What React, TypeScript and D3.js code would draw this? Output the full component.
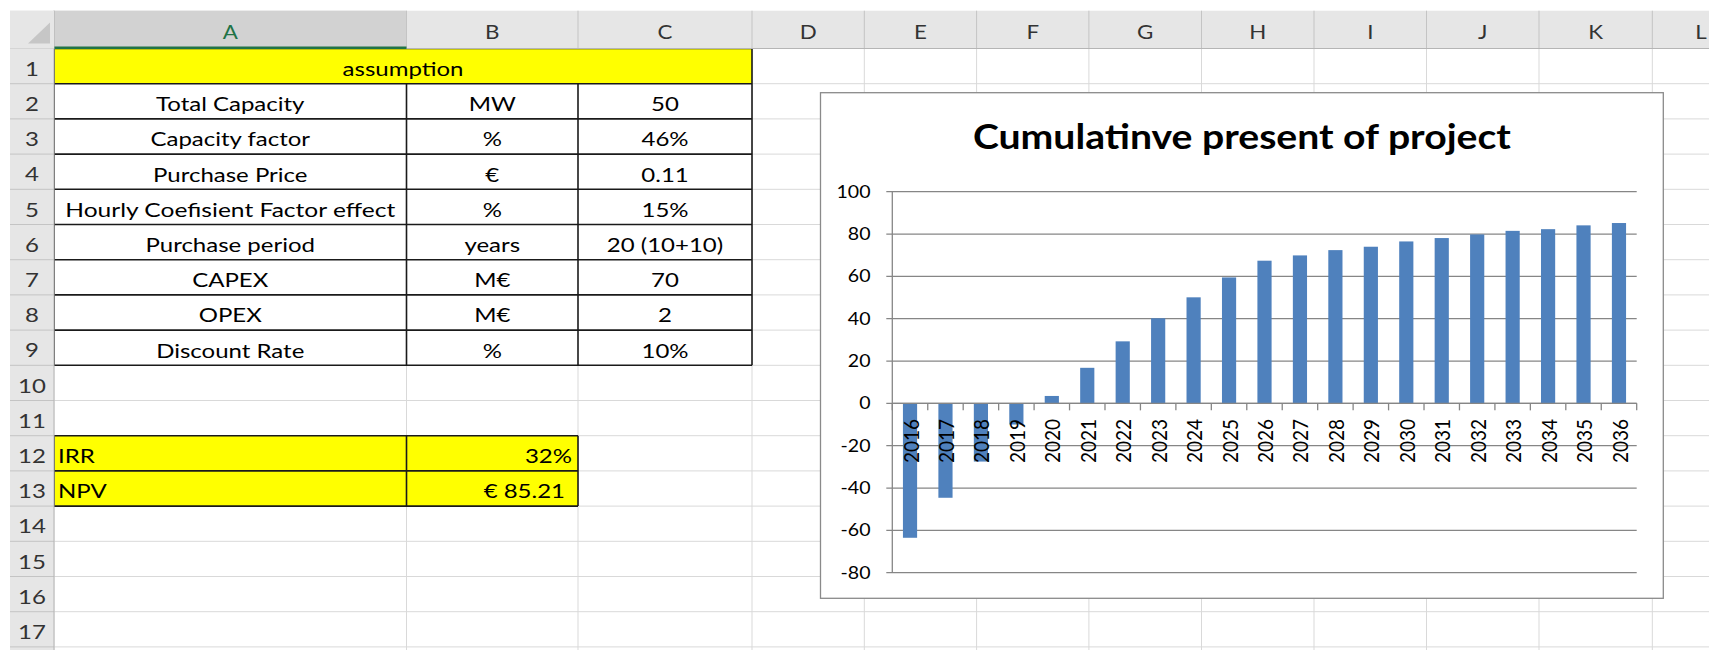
import React from "react";
import * as d3 from "d3";

// ---------- data ----------
const years = [
  "2016","2017","2018","2019","2020","2021","2022","2023","2024","2025","2026",
  "2027","2028","2029","2030","2031","2032","2033","2034","2035","2036",
];
const cumulativePV = [
  -63.5, -44.6, -27.5, -10, 3.5, 16.8, 29.3, 40.2, 50.1, 59.5, 67.4,
  69.9, 72.4, 74.0, 76.5, 78.1, 79.8, 81.5, 82.3, 84.1, 85.2,
];
const yTicks = [-80, -60, -40, -20, 0, 20, 40, 60, 80, 100];
const chartTitle = "Cumulatinve present of project";

const assumptionLabels = [
  "Total Capacity", "Capacity factor", "Purchase Price", "Hourly Coefisient Factor effect",
  "Purchase period", "CAPEX", "OPEX", "Discount Rate",
];
const assumptionUnits = ["MW", "%", "€", "%", "years", "M€", "M€", "%"];
const assumptionValues = ["50", "46%", "0.11", "15%", "20 (10+10)", "70", "2", "10%"];
const resultLabels = ["IRR", "NPV"];
const resultValues = ["32%", "€ 85.21"];
const columnLetters = ["A","B","C","D","E","F","G","H","I","J","K","L"];

// ---------- layout ----------
const W = 1709, H = 650;
const COL_EDGES = [54, 406.5, 578, 752, 864.3, 976.6, 1088.9, 1201.5, 1314, 1426.5, 1539, 1652.3, 1765];
const HEAD_TOP = 10.7, HEAD_BOT = 48.5, ROW_H = 35.2, ROWHDR_L = 10;
const rowTop = (r: number) => HEAD_BOT + (r - 1) * ROW_H;
const FONT = "Lato, 'Open Sans', sans-serif";

function T({ x, y, children, size = 20, anchor = "middle", sx = 1.2, weight = 400, fill = "#000", len }: any) {
  return (
    <text
      transform={`translate(${x},${y}) scale(${sx},1)`}
      fontSize={size}
      textAnchor={anchor}
      fontWeight={weight}
      fill={fill}
      fontFamily={FONT}
      textLength={len ? len / sx : undefined}
      lengthAdjust={len ? "spacingAndGlyphs" : undefined}
    >
      {children}
    </text>
  );
}

function Sheet() {
  const rows = d3.range(1, 19);
  const colCenter = (i: number) => (COL_EDGES[i] + COL_EDGES[i + 1]) / 2;
  const baseline = (r: number) => rowTop(r) + 27.5;
  const black = "#1a1a1a";
  return (
    <g>
      {/* gridlines */}
      {rows.map((r) => (
        <line key={"h" + r} x1={COL_EDGES[0]} x2={W} y1={rowTop(r)} y2={rowTop(r)} stroke="#d9d9d9" />
      ))}
      {COL_EDGES.map((x, i) => (
        <line key={"v" + i} x1={x} x2={x} y1={HEAD_BOT} y2={H} stroke="#d9d9d9" />
      ))}
      {/* yellow fills */}
      <rect x={COL_EDGES[0]} y={rowTop(1)} width={COL_EDGES[3] - COL_EDGES[0]} height={ROW_H} fill="#ffff00" />
      <rect x={COL_EDGES[0]} y={rowTop(12)} width={COL_EDGES[2] - COL_EDGES[0]} height={ROW_H * 2} fill="#ffff00" />
      {/* white cells rows 2-9 (to cover gridlines) */}
      <rect x={COL_EDGES[0]} y={rowTop(2)} width={COL_EDGES[3] - COL_EDGES[0]} height={ROW_H * 8} fill="#fff" />
      {/* black borders: assumptions table */}
      {d3.range(1, 11).map((r) => (
        <line key={"tb" + r} x1={COL_EDGES[0]} x2={COL_EDGES[3]} y1={rowTop(r)} y2={rowTop(r)} stroke={black} strokeWidth={1.6} />
      ))}
      {[0, 3].map((c) => (
        <line key={"to" + c} x1={COL_EDGES[c]} x2={COL_EDGES[c]} y1={rowTop(1)} y2={rowTop(10)} stroke={black} strokeWidth={1.6} />
      ))}
      {[1, 2].map((c) => (
        <line key={"ti" + c} x1={COL_EDGES[c]} x2={COL_EDGES[c]} y1={rowTop(2)} y2={rowTop(10)} stroke={black} strokeWidth={1.6} />
      ))}
      {/* result table borders */}
      {[12, 13, 14].map((r) => (
        <line key={"rb" + r} x1={COL_EDGES[0]} x2={COL_EDGES[2]} y1={rowTop(r)} y2={rowTop(r)} stroke={black} strokeWidth={1.6} />
      ))}
      {[0, 1, 2].map((c) => (
        <line key={"rv" + c} x1={COL_EDGES[c]} x2={COL_EDGES[c]} y1={rowTop(12)} y2={rowTop(14)} stroke={black} strokeWidth={1.6} />
      ))}
      {/* texts */}
      <T x={(COL_EDGES[0] + COL_EDGES[3]) / 2} y={baseline(1)}>assumption</T>
      {assumptionLabels.map((s, i) => (
        <T key={"l" + i} x={colCenter(0)} y={baseline(i + 2)} len={s.length > 25 ? 330 : undefined}>{s}</T>
      ))}
      {assumptionUnits.map((s, i) => (
        <T key={"u" + i} x={colCenter(1)} y={baseline(i + 2)}>{s}</T>
      ))}
      {assumptionValues.map((s, i) => (
        <T key={"v" + i} x={colCenter(2)} y={baseline(i + 2)}>{s}</T>
      ))}
      {resultLabels.map((s, i) => (
        <T key={"rl" + i} x={58} y={baseline(i + 12)} anchor="start">{s}</T>
      ))}
      {resultValues.map((s, i) => (
        <T key={"rv2" + i} x={i === 0 ? 572 : 565} y={baseline(i + 12)} anchor="end">{s}</T>
      ))}

      {/* column header */}
      <rect x={ROWHDR_L} y={HEAD_TOP} width={W - ROWHDR_L} height={HEAD_BOT - HEAD_TOP} fill="#e6e6e6" />
      <rect x={COL_EDGES[0]} y={HEAD_TOP} width={COL_EDGES[1] - COL_EDGES[0]} height={HEAD_BOT - HEAD_TOP} fill="#d2d2d2" />
      {COL_EDGES.map((x, i) => (
        <line key={"hd" + i} x1={x} x2={x} y1={HEAD_TOP} y2={HEAD_BOT} stroke="#c4c4c4" />
      ))}
      <line x1={ROWHDR_L} x2={W} y1={HEAD_BOT} y2={HEAD_BOT} stroke="#b5b5b5" />
      <rect x={COL_EDGES[0]} y={HEAD_BOT - 2} width={COL_EDGES[1] - COL_EDGES[0]} height={2.5} fill="#217346" />
      {columnLetters.map((c, i) => (
        <T key={"cl" + i} x={i === 11 ? 1701 : colCenter(i)} y={39.3} size={18.6} fill={i === 0 ? "#217346" : "#333"}>{c}</T>
      ))}
      {/* row header */}
      <rect x={ROWHDR_L} y={HEAD_BOT} width={COL_EDGES[0] - ROWHDR_L} height={H - HEAD_BOT} fill="#e6e6e6" />
      {rows.map((r) => (
        <line key={"rh" + r} x1={ROWHDR_L} x2={COL_EDGES[0]} y1={rowTop(r)} y2={rowTop(r)} stroke="#c4c4c4" />
      ))}
      <line x1={COL_EDGES[0]} x2={COL_EDGES[0]} y1={HEAD_TOP} y2={H} stroke="#b5b5b5" />
      {d3.range(1, 18).map((r) => (
        <T key={"rn" + r} x={(ROWHDR_L + COL_EDGES[0]) / 2} y={rowTop(r) + 27.2} size={20} fill="#333">{String(r)}</T>
      ))}
      {/* corner */}
      <rect x={ROWHDR_L} y={HEAD_TOP} width={COL_EDGES[0] - ROWHDR_L} height={HEAD_BOT - HEAD_TOP} fill="#e6e6e6" />
      <path d="M28,43.5 L50,43.5 L50,22.5 Z" fill="#c6c6c6" />
    </g>
  );
}

function Chart() {
  const frame = { x0: 820.5, y0: 92.7, x1: 1663.3, y1: 598.3 };
  const plot = { left: 892.3, right: 1636.7, top: 191.7, bottom: 572.7 };
  const x = d3.scaleBand<string>().domain(years).range([plot.left, plot.right]).paddingInner(0.6).paddingOuter(0.3);
  const y = d3.scaleLinear().domain([-80, 100]).range([plot.bottom, plot.top]);
  const step = x.step();
  const boundaries = d3.range(years.length + 1).map((i) => plot.left + i * step);
  const axisColor = "#868686";
  return (
    <g>
      <rect x={frame.x0} y={frame.y0} width={frame.x1 - frame.x0} height={frame.y1 - frame.y0} fill="#fff" stroke="#8a8a8a" strokeWidth={1.3} />
      <T x={(frame.x0 + frame.x1) / 2} y={149.3} size={35} weight={700} sx={1} len={538}>{chartTitle}</T>
      {yTicks.map((t) => (
        <g key={"g" + t}>
          <line x1={plot.left - 6} x2={plot.right} y1={y(t)} y2={y(t)} stroke={axisColor} strokeWidth={1.3} />
          <T x={870.5} y={y(t) + 5.85} size={16.3} anchor="end" sx={1.2}>{String(t)}</T>
        </g>
      ))}
      <line x1={plot.left} x2={plot.left} y1={plot.top} y2={plot.bottom} stroke={axisColor} strokeWidth={1.3} />
      {years.map((yr, i) => {
        const v = cumulativePV[i];
        return (
          <rect
            key={yr}
            x={x(yr)}
            y={Math.min(y(v), y(0))}
            width={x.bandwidth()}
            height={Math.abs(y(v) - y(0))}
            fill="#4f81bd"
          />
        );
      })}
      <line x1={plot.left} x2={plot.right} y1={y(0)} y2={y(0)} stroke={axisColor} strokeWidth={1.3} />
      {boundaries.map((bx, i) => (
        <line key={"bt" + i} x1={bx} x2={bx} y1={y(0)} y2={y(0) + 7} stroke={axisColor} strokeWidth={1.3} />
      ))}
      {years.map((yr) => {
        const cx = (x(yr) as number) + x.bandwidth() / 2 + 1;
        return (
          <text
            key={"lbl" + yr}
            transform={`translate(${cx},419) scale(1.1,1) rotate(-90)`}
            fontSize={19}
            fontFamily={FONT}
            textAnchor="end"
            dy="0.36em"
            fill="#000"
          >
            {yr}
          </text>
        );
      })}
    </g>
  );
}

export default function App() {
  return (
    <svg width={W} height={H} style={{ position: "absolute", left: 0, top: 0, display: "block" }}>
      <rect width={W} height={H} fill="#fff" />
      <Sheet />
      <Chart />
    </svg>
  );
}
